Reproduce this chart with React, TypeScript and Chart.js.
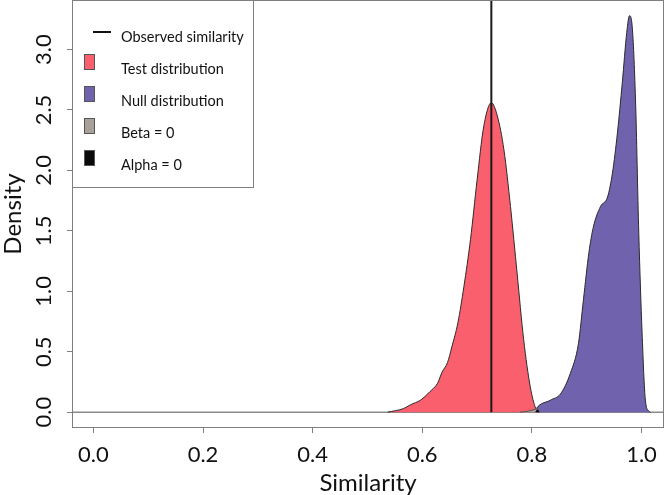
import React, { useEffect, useRef } from 'react';
import { Chart, registerables } from 'chart.js';

Chart.register(...registerables);

// ---- data ----
const xTicks = [0, 0.2, 0.4, 0.6, 0.8, 1.0];
const yTicks = [0, 0.5, 1.0, 1.5, 2.0, 2.5, 3.0];
const xRange = [-0.039, 1.041];
const yRange = [-0.131, 3.41];

const testX = [0.537, 0.566, 0.578, 0.597, 0.614, 0.628, 0.636, 0.646, 0.654, 0.665, 0.676, 0.688, 0.700, 0.712, 0.726, 0.737, 0.749, 0.761, 0.773, 0.785, 0.797, 0.807, 0.812];
const testY = [0.0, 0.03, 0.06, 0.10, 0.17, 0.24, 0.33, 0.41, 0.54, 0.74, 1.04, 1.43, 1.92, 2.36, 2.56, 2.45, 2.17, 1.70, 1.15, 0.60, 0.21, 0.03, 0.0];

const nullX = [0.805, 0.808, 0.834, 0.852, 0.870, 0.885, 0.894, 0.904, 0.912, 0.925, 0.938, 0.947, 0.956, 0.965, 0.973, 0.978, 0.983, 0.989, 0.995, 1.001, 1.007, 1.013, 1.016];
const nullY = [0.0, 0.03, 0.10, 0.15, 0.32, 0.57, 0.93, 1.32, 1.53, 1.70, 1.78, 1.98, 2.31, 2.73, 3.14, 3.28, 3.19, 2.59, 1.48, 0.66, 0.10, 0.01, 0.0];

const betaX = [0.778, 0.790, 0.800, 0.806, 0.810, 0.813];
const betaY = [0.0, 0.006, 0.015, 0.024, 0.03, 0.0];

const alphaX = [0.807, 0.810, 0.813];
const alphaY = [0.0, 0.02, 0.0];

const observedSimilarity = 0.726;

const legendLabels = ['Observed similarity', 'Test distribution', 'Null distribution', 'Beta = 0', 'Alpha = 0'];
const legendColors = ['#111111', '#F95F6D', '#7062AC', '#A8A199', '#0A0A0A'];

const FONT = 'Lato';

const toPts = (xs: number[], ys: number[]) => xs.map((x, i) => ({ x, y: ys[i] }));

const boxLegendPlugin = {
  id: 'boxLegend',
  afterDraw(chart: any) {
    const ctx = chart.ctx as CanvasRenderingContext2D;
    const a = chart.chartArea;
    ctx.save();
    ctx.strokeStyle = '#7f7f7f';
    ctx.lineWidth = 1;
    ctx.strokeRect(a.left + 0.5, a.top + 0.5, a.right - a.left - 1, a.bottom - a.top - 1);

    // legend box
    const lx = a.left + 0.5;
    const ly = a.top + 0.5;
    const lw = 181;
    const lh = 187;
    ctx.fillStyle = '#ffffff';
    ctx.fillRect(lx, ly, lw, lh);
    ctx.strokeStyle = '#7f7f7f';
    ctx.strokeRect(lx, ly, lw, lh);

    ctx.font = `14.5px ${FONT}`;
    ctx.textBaseline = 'middle';
    ctx.textAlign = 'left';
    legendLabels.forEach((lab, i) => {
      const ty = a.top + 37 + i * 32;
      if (i === 0) {
        ctx.strokeStyle = legendColors[0];
        ctx.lineWidth = 2;
        ctx.beginPath();
        ctx.moveTo(a.left + 21, ty - 5);
        ctx.lineTo(a.left + 39, ty - 5);
        ctx.stroke();
      } else {
        ctx.fillStyle = legendColors[i];
        ctx.fillRect(a.left + 12.5, ty - 14.5, 10, 15);
        ctx.strokeStyle = '#555555';
        ctx.lineWidth = 1;
        ctx.strokeRect(a.left + 12.5, ty - 14.5, 10, 15);
      }
      ctx.fillStyle = '#111111';
      ctx.fillText(lab, a.left + 49, ty);
    });
    ctx.restore();
  },
};

export default function App() {
  const ref = useRef<HTMLCanvasElement | null>(null);
  useEffect(() => {
    if (!ref.current) return;
    const chart = new Chart(ref.current, {
      type: 'line',
      data: {
        datasets: [
          {
            label: legendLabels[0],
            data: [{ x: observedSimilarity, y: 0 }, { x: observedSimilarity, y: yRange[1] }],
            borderColor: '#1a1a1a',
            borderWidth: 2,
            pointRadius: 0,
            fill: false,
          },
          {
            label: legendLabels[4],
            data: toPts(alphaX, alphaY),
            borderColor: '#000000',
            backgroundColor: legendColors[4],
            borderWidth: 1,
            pointRadius: 0,
            fill: 'origin',
          },
          {
            label: legendLabels[3],
            data: toPts(betaX, betaY),
            borderColor: '#555555',
            backgroundColor: legendColors[3],
            borderWidth: 1,
            pointRadius: 0,
            fill: 'origin',
          },
          {
            label: legendLabels[2],
            data: toPts(nullX, nullY),
            borderColor: '#2a2a2a',
            backgroundColor: legendColors[2],
            borderWidth: 1,
            pointRadius: 0,
            cubicInterpolationMode: 'monotone',
            fill: 'origin',
          },
          {
            label: legendLabels[1],
            data: toPts(testX, testY),
            borderColor: '#2a2a2a',
            backgroundColor: legendColors[1],
            borderWidth: 1,
            pointRadius: 0,
            cubicInterpolationMode: 'monotone',
            fill: 'origin',
          },
          {
            label: 'baseline',
            data: [{ x: xRange[0], y: 0 }, { x: xRange[1], y: 0 }],
            borderColor: '#8a8a8a',
            borderWidth: 1.5,
            pointRadius: 0,
            fill: false,
          },
        ],
      },
      options: {
        animation: false,
        responsive: false,
        devicePixelRatio: 1,
        layout: { padding: { top: 0, right: 2, left: 0, bottom: 0 } },
        plugins: { legend: { display: false }, tooltip: { enabled: false } },
        scales: {
          x: {
            type: 'linear',
            min: xRange[0],
            max: xRange[1],
            afterBuildTicks: (s: any) => {
              s.ticks = xTicks.map((v) => ({ value: v }));
            },
            afterFit: (s: any) => {
              s.height = 67;
              s.paddingLeft = 0;
              s.paddingRight = 0;
            },
            ticks: {
              callback: (v: any) => Number(v).toFixed(1),
              font: { family: FONT, size: 22 },
              color: '#111111',
              padding: 9,
              maxRotation: 0,
              autoSkip: false,
            },
            grid: { drawOnChartArea: false, drawTicks: true, tickLength: 5, color: '#7f7f7f' },
            border: { display: false },
            title: {
              display: true,
              text: 'Similarity',
              font: { family: FONT, size: 24, lineHeight: 1 },
              color: '#111111',
              padding: { top: 0, bottom: 0 },
            },
          },
          y: {
            type: 'linear',
            min: yRange[0],
            max: yRange[1],
            afterBuildTicks: (s: any) => {
              s.ticks = yTicks.map((v) => ({ value: v }));
            },
            afterFit: (s: any) => {
              s.width = 72;
              s.paddingTop = 0;
              s.paddingBottom = 0;
            },
            ticks: {
              callback: (v: any) => Number(v).toFixed(1),
              font: { family: FONT, size: 22 },
              color: '#111111',
              padding: 8,
              minRotation: 90,
              maxRotation: 90,
              crossAlign: 'center',
              autoSkip: false,
            },
            grid: { drawOnChartArea: false, drawTicks: true, tickLength: 5, color: '#7f7f7f' },
            border: { display: false },
            title: {
              display: true,
              text: 'Density',
              font: { family: FONT, size: 24, lineHeight: 1.1 },
              color: '#111111',
              padding: { top: 0, bottom: 0 },
            },
          },
        },
      } as any,
      plugins: [boxLegendPlugin],
    });
    return () => chart.destroy();
  }, []);

  return (
    <div style={{ position: 'absolute', left: 0, top: 0, width: 666, height: 495, background: '#fff' }}>
      <canvas ref={ref} width={666} height={495} style={{ display: 'block' }} />
    </div>
  );
}
